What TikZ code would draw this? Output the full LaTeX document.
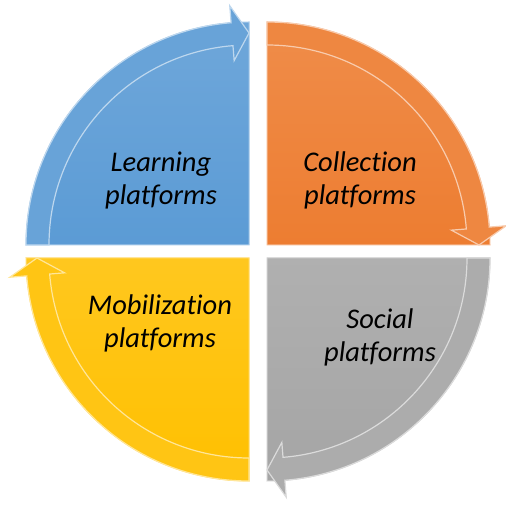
\documentclass[tikz,border=0pt]{standalone}
\usepackage{fontspec}
\setmainfont{Carlito}[Ligatures=NoCommon]
\definecolor{learnblue}{HTML}{5B9BD5}
\definecolor{collectorange}{HTML}{ED7D31}
\definecolor{socialgray}{HTML}{A5A5A5}
\definecolor{mobilyellow}{HTML}{FFC000}
\tikzset{
  quadfill/.style={draw=#1!55!white, line width=1pt, top color=#1!88!white, bottom color=#1},
  arrowband/.style={fill=#1!92!white, draw=#1!40!white, line width=1.2pt},
  platname/.style={align=center, font=\fontsize{28.5}{33}\selectfont\itshape}
}
\begin{document}
\begin{tikzpicture}[x=1pt,y=1pt]
    \useasboundingbox (0,0) rectangle (506,509);

    \begin{scope}[shift={(249,264)}]
      \path[quadfill=learnblue] (0,0) -- (180:223) arc[start angle=180,end angle=90,radius=223] -- cycle;
      \path[arrowband=learnblue] (180:223) arc[start angle=180,end angle=94.6,radius=223] -- (94.6:240) -- (90:212) -- (94.6:185) -- (94.6:200) arc[start angle=94.6,end angle=180,radius=200] -- cycle;
    \end{scope}
    \begin{scope}[shift={(267,264)}]
      \path[quadfill=collectorange] (0,0) -- (90:223) arc[start angle=90,end angle=0,radius=223] -- cycle;
      \path[arrowband=collectorange] (90:223) arc[start angle=90,end angle=4.6,radius=223] -- (4.6:240) -- (0:212) -- (4.6:185) -- (4.6:200) arc[start angle=4.6,end angle=90,radius=200] -- cycle;
    \end{scope}
    \begin{scope}[shift={(267,251)}]
      \path[quadfill=socialgray] (0,0) -- (0:223) arc[start angle=0,end angle=-90,radius=223] -- cycle;
      \path[arrowband=socialgray] (0:223) arc[start angle=0,end angle=-85.4,radius=223] -- (-85.4:240) -- (-90:212) -- (-85.4:185) -- (-85.4:200) arc[start angle=-85.4,end angle=0,radius=200] -- cycle;
    \end{scope}
    \begin{scope}[shift={(249,251)}]
      \path[quadfill=mobilyellow] (0,0) -- (270:223) arc[start angle=270,end angle=180,radius=223] -- cycle;
      \path[arrowband=mobilyellow] (270:223) arc[start angle=270,end angle=184.6,radius=223] -- (184.6:240) -- (180:212) -- (184.6:185) -- (184.6:200) arc[start angle=184.6,end angle=270,radius=200] -- cycle;
    \end{scope}

    \node[platname] (learning) at (161,329) {Learning\\platforms};
    \node[platname] (collection) at (360,329) {Collection\\platforms};
    \node[platname] (social) at (380,172) {Social\\platforms};
    \node[platname] (mobilization) at (160,186) {Mobilization\\platforms};
  \end{tikzpicture}
\end{document}
